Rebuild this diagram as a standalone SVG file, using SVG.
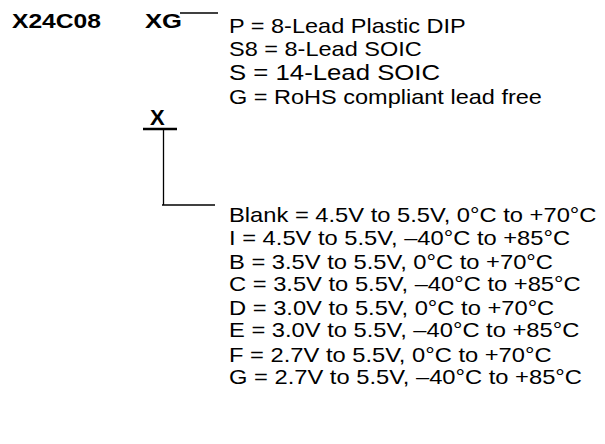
<svg xmlns="http://www.w3.org/2000/svg" width="605" height="444" viewBox="0 0 605 444">
<style>
.b{font-family:"Liberation Sans",Arial,sans-serif;font-weight:bold;fill:#000}
.t{font-family:"Liberation Sans",Arial,sans-serif;fill:#000;font-size:21px}
.ln{stroke:#000;stroke-width:1.3;fill:none}
.ul{stroke:#000;stroke-width:2.5;fill:none}
</style>
<rect width="605" height="444" fill="#fff"/>
<g id="part">
<text class="b" x="12" y="28" font-size="21" textLength="89" lengthAdjust="spacingAndGlyphs">X24C08</text>
</g>
<g id="pkg">
<text class="b" x="145" y="28" font-size="21" textLength="37" lengthAdjust="spacingAndGlyphs">XG</text>
</g>
<g id="pkg-options" transform="translate(229,0) scale(1.12,1)">
<text class="t" x="0" y="33">P = 8-Lead Plastic DIP</text>
<text class="t" x="0" y="56">S8 = 8-Lead SOIC</text>
<text class="t" x="0" y="80" style="font-size:23px">S = 14-Lead SOIC</text>
<text class="t" x="0" y="104">G = RoHS compliant lead free</text>
</g>
<g id="temp">
<text class="b" x="150" y="125" font-size="22">X</text>
</g>
<g id="temp-options" transform="translate(229,0) scale(1.13,1)">
<text class="t" x="0" y="222">Blank = 4.5V to 5.5V, 0°C to +70°C</text>
<text class="t" x="0" y="245">I = 4.5V to 5.5V, –40°C to +85°C</text>
<text class="t" x="0" y="269">B = 3.5V to 5.5V, 0°C to +70°C</text>
<text class="t" x="0" y="291">C = 3.5V to 5.5V, –40°C to +85°C</text>
<text class="t" x="0" y="315">D = 3.0V to 5.5V, 0°C to +70°C</text>
<text class="t" x="0" y="337">E = 3.0V to 5.5V, –40°C to +85°C</text>
<text class="t" x="0" y="362">F = 2.7V to 5.5V, 0°C to +70°C</text>
<text class="t" x="0" y="384">G = 2.7V to 5.5V, –40°C to +85°C</text>
</g>
<g id="connectors">
<line class="ln" x1="180" y1="13" x2="218" y2="13"/>
<line class="ul" x1="143" y1="129" x2="177" y2="129"/>
<line class="ln" x1="163.5" y1="129" x2="163.5" y2="205"/>
<line class="ln" x1="162" y1="205" x2="215" y2="205"/>
</g>
</svg>
